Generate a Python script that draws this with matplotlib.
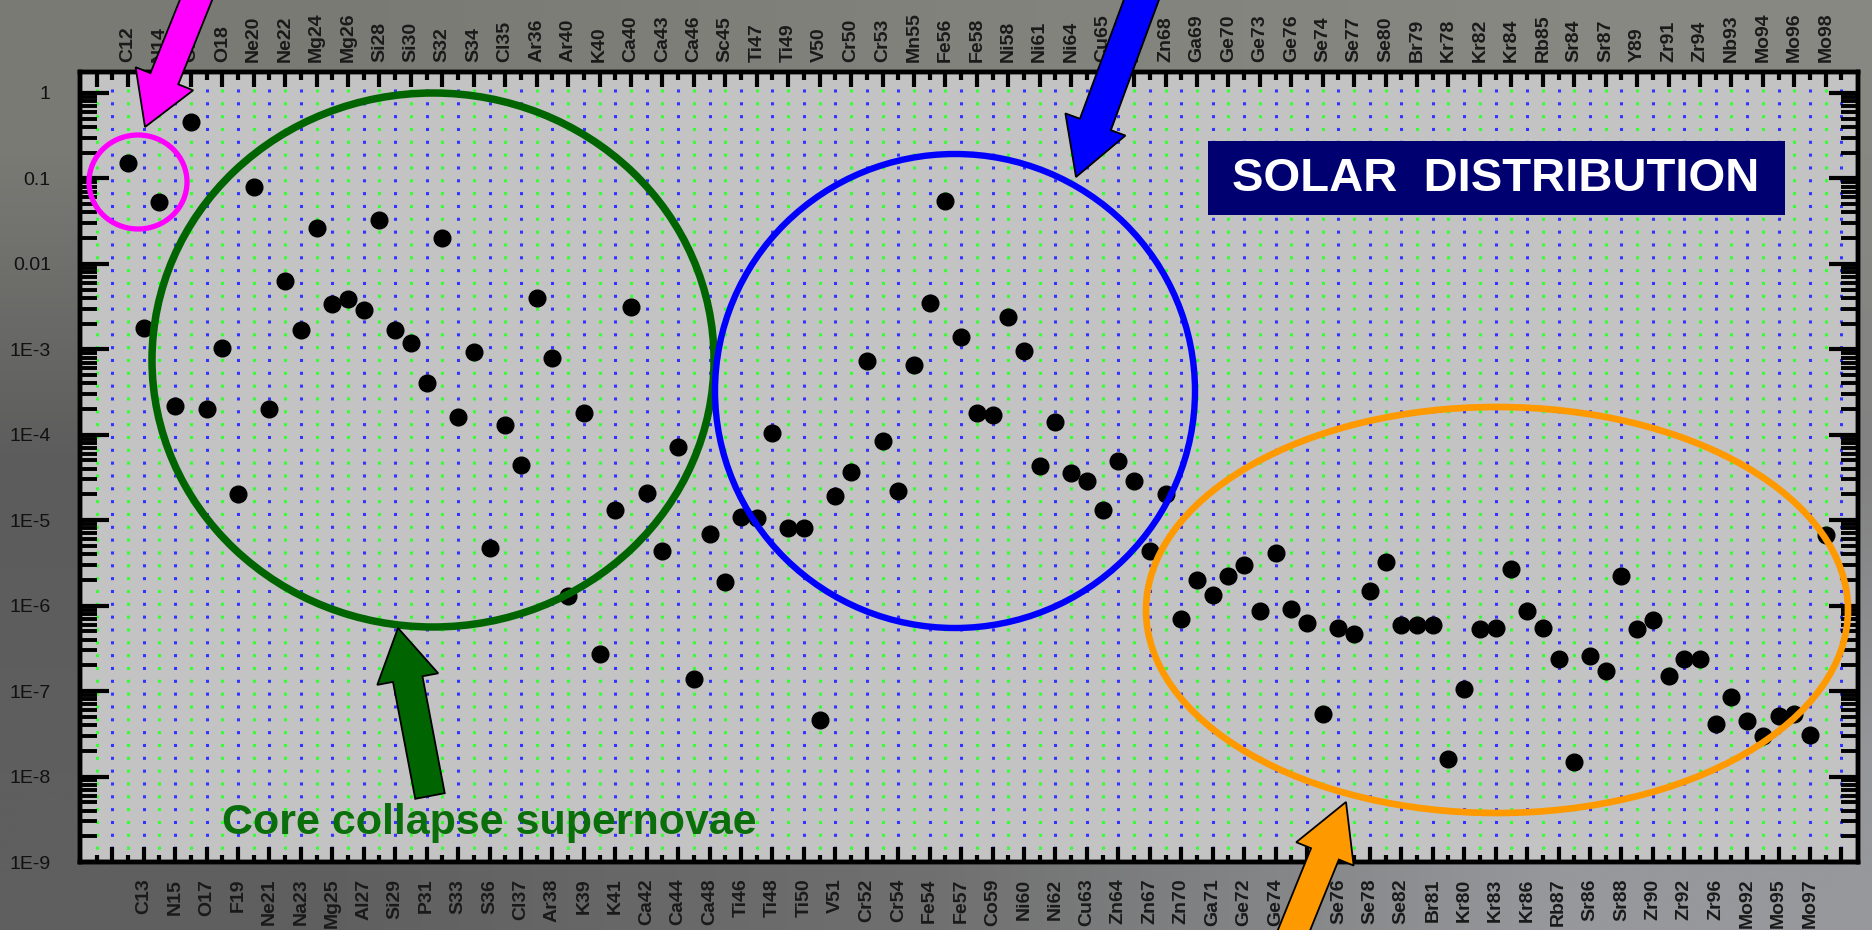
import numpy as np
import matplotlib
matplotlib.use("Agg")
import matplotlib.pyplot as plt
from matplotlib.patches import Ellipse, FancyArrow, Rectangle

plt.rcParams['font.family'] = ['Liberation Sans', 'DejaVu Sans']

# isotopes in plotting order (alternating top / bottom labels)
isotopes = ["C12", "C13", "N14", "N15", "O16", "O17", "O18", "F19", "Ne20", "Ne21", "Ne22", "Na23",
            "Mg24", "Mg25", "Mg26", "Al27", "Si28", "Si29", "Si30", "P31", "S32", "S33", "S34", "S36",
            "Cl35", "Cl37", "Ar36", "Ar38", "Ar40", "K39", "K40", "K41", "Ca40", "Ca42", "Ca43", "Ca44",
            "Ca46", "Ca48", "Sc45", "Ti46", "Ti47", "Ti48", "Ti49", "Ti50", "V50", "V51", "Cr50", "Cr52",
            "Cr53", "Cr54", "Mn55", "Fe54", "Fe56", "Fe57", "Fe58", "Co59", "Ni58", "Ni60", "Ni61", "Ni62",
            "Ni64", "Cu63", "Cu65", "Zn64", "Zn66", "Zn67", "Zn68", "Zn70", "Ga69", "Ga71", "Ge70", "Ge72",
            "Ge73", "Ge74", "Ge76", "As75", "Se74", "Se76", "Se77", "Se78", "Se80", "Se82", "Br79", "Br81",
            "Kr78", "Kr80", "Kr82", "Kr83", "Kr84", "Kr86", "Rb85", "Rb87", "Sr84", "Sr86", "Sr87", "Sr88",
            "Y89", "Zr90", "Zr91", "Zr92", "Zr94", "Zr96", "Nb93", "Mo92", "Mo94", "Mo95", "Mo96", "Mo97",
            "Mo98"]

abundance = [0.15, 1.8e-3, 0.053, 2.2e-4, 0.46, 2.0e-4, 1.05e-3, 2.0e-5, 0.08, 2.0e-4, 6.3e-3, 1.7e-3,
             0.026, 3.4e-3, 3.9e-3, 2.9e-3, 0.033, 1.7e-3, 1.2e-3, 4.0e-4, 0.020, 1.6e-4, 9.4e-4, 4.7e-6,
             1.3e-4, 4.4e-5, 4.0e-3, 8.0e-4, 1.3e-6, 1.8e-4, 2.7e-7, 1.3e-5, 3.1e-3, 2.1e-5, 4.4e-6, 7.1e-5,
             1.4e-7, 6.9e-6, 1.9e-6, 1.1e-5, 1.06e-5, 1.05e-4, 8.2e-6, 8.2e-6, 4.6e-8, 1.9e-5, 3.7e-5, 7.3e-4,
             8.4e-5, 2.2e-5, 6.5e-4, 3.5e-3, 0.055, 1.4e-3, 1.8e-4, 1.7e-4, 2.4e-3, 9.6e-4, 4.3e-5, 1.4e-4,
             3.6e-5, 2.9e-5, 1.3e-5, 4.9e-5, 2.9e-5, 4.4e-6, 2.0e-5, 6.9e-7, 2.0e-6, 1.35e-6, 2.2e-6, 3.0e-6,
             8.7e-7, 4.1e-6, 9.1e-7, 6.3e-7, 5.4e-8, 5.5e-7, 4.6e-7, 1.5e-6, 3.2e-6, 5.9e-7, 5.9e-7, 5.9e-7,
             1.6e-8, 1.05e-7, 5.4e-7, 5.5e-7, 2.7e-6, 8.7e-7, 5.5e-7, 2.4e-7, 1.5e-8, 2.6e-7, 1.7e-7, 2.2e-6,
             5.3e-7, 6.8e-7, 1.5e-7, 2.4e-7, 2.4e-7, 4.1e-8, 8.5e-8, 4.5e-8, 3.0e-8, 5.1e-8, 5.4e-8, 3.1e-8,
             6.8e-6]

ytick_vals = [1, 0.1, 0.01, 1e-3, 1e-4, 1e-5, 1e-6, 1e-7, 1e-8, 1e-9]
ytick_labels = ["1", "0.1", "0.01", "1E-3", "1E-4", "1E-5", "1E-6", "1E-7", "1E-8", "1E-9"]

W, H = 1872, 930
fig = plt.figure(figsize=(W / 100, H / 100), dpi=100)

# photo-like grey background
bg = fig.add_axes([0, 0, 1, 1], zorder=-10)
grad = np.array([[[122, 122, 117], [130, 130, 125], [136, 136, 131]],
                 [[92, 92, 92], [120, 120, 118], [130, 130, 130]],
                 [[95, 95, 95], [112, 112, 112], [150, 152, 155]]]) / 255
bg.imshow(grad, aspect='auto', interpolation='bilinear', extent=[0, 1, 0, 1])
bg.axis('off')

ax = fig.add_axes([80 / W, 1 - 862 / H, (1858 - 80) / W, (862 - 72) / H])
ax.set_facecolor('#c3c3c3')
ax.set_yscale('log')
ax.set_xlim(-3.05, 110.05)
ax.set_ylim(1e-9, 1.76)

x = np.arange(len(isotopes))

# dotted vertical guide lines
even = np.arange(-2, 110, 2)
odd = np.arange(-1, 110, 2)
ax.vlines(even, 1e-9, 1.76, colors='#33ff33', linestyles=(0, (1, 3.2)), lw=2.2, zorder=1)
ax.vlines(odd, 1e-9, 1.76, colors='#3333ff', linestyles=(0, (1, 3.2)), lw=2.2, zorder=1)

ax.plot(x, abundance, 'o', color='black', ms=12, ls='none', zorder=3, clip_on=False)

for s in ax.spines.values():
    s.set_linewidth(3.2)
    s.set_color('black')

ax.set_yticks(ytick_vals, ytick_labels)
ax.yaxis.set_minor_locator(matplotlib.ticker.LogLocator(base=10, subs=np.arange(2, 10), numticks=20))
ax.yaxis.set_minor_formatter(matplotlib.ticker.NullFormatter())
ax.tick_params(axis='y', which='major', direction='in', length=21, width=3, pad=21,
               labelsize=14, labelcolor='#111111', right=True)
ax.tick_params(axis='y', which='minor', direction='in', length=12, width=2.8, right=True)

bottom_labels = [isotopes[i] if 0 <= i < len(isotopes) else '' for i in odd]
ax.set_xticks(odd, bottom_labels, rotation=90, fontweight='bold')
ax.set_xticks(even, minor=True)
ax.tick_params(axis='x', which='major', direction='in', length=11, width=3, pad=12,
               labelsize=14, labelcolor='#1a1a1a')
ax.tick_params(axis='x', which='minor', direction='in', length=5, width=3)

top = ax.twiny()
top.set_xlim(ax.get_xlim())
top_labels = [isotopes[i] if 0 <= i < len(isotopes) else '' for i in even]
top.set_xticks(even, top_labels, rotation=90, fontweight='bold')
top.set_xticks(odd, minor=True)
top.tick_params(axis='x', which='major', direction='in', length=11, width=3, pad=7,
                labelsize=14, labelcolor='#1a1a1a')
top.tick_params(axis='x', which='minor', direction='in', length=6, width=3)
for s in top.spines.values():
    s.set_linewidth(3.2)

# annotations in pixel coordinates
ov = fig.add_axes([0, 0, 1, 1], zorder=10)
ov.set_xlim(0, W)
ov.set_ylim(H, 0)
ov.axis('off')
ov.patch.set_alpha(0)

ov.add_patch(Ellipse((138, 182), 98, 94, fill=False, ec='#ff00ff', lw=3.8))
ov.add_patch(Ellipse((433, 360), 562, 534, fill=False, ec='#006400', lw=5.4))
ov.add_patch(Ellipse((955, 391), 480, 474, fill=False, ec='#0000ff', lw=4.6))
ov.add_patch(Ellipse((1497, 610), 702, 406, fill=False, ec='#ff9900', lw=4.8))

arrow_kw = dict(length_includes_head=True, ec='black', lw=1.3)
ov.add_patch(FancyArrow(200, -10, -55, 137, width=30, head_width=62, head_length=52, fc='#ff00ff', **arrow_kw))
ov.add_patch(FancyArrow(1145, -10, -69, 187, width=33, head_width=64, head_length=56, fc='#0000ff', **arrow_kw))
ov.add_patch(FancyArrow(430, 796, -32, -168, width=30, head_width=62, head_length=52, fc='#006400', **arrow_kw))
ov.add_patch(FancyArrow(1290, 940, 56, -138, width=30, head_width=62, head_length=56, fc='#ff9900', **arrow_kw))

ov.add_patch(Rectangle((1208, 141), 577, 74, fc='#000070', ec='none'))
ov.text(1496, 179, "SOLAR  DISTRIBUTION", color='white', fontsize=34, fontweight='bold',
        ha='center', va='center')
ov.text(222, 834, "Core collapse supernovae", color='#0a6e0a', fontsize=31, fontweight='bold',
        ha='left', va='baseline')

fig.savefig('out.png', dpi=100)
